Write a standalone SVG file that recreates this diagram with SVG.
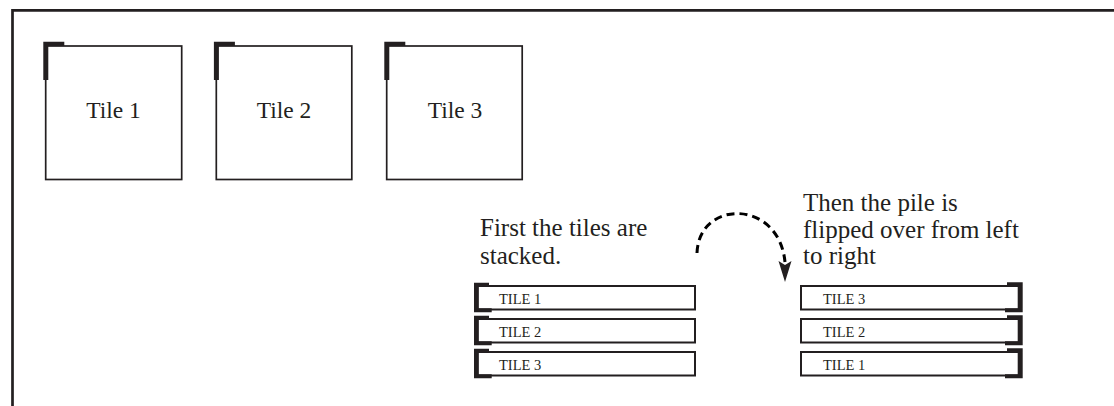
<svg xmlns="http://www.w3.org/2000/svg" xmlns:xlink="http://www.w3.org/1999/xlink" width="1114" height="406" viewBox="0 0 1114 406">
<style>
.frame{fill:none;stroke:#231f20;stroke-width:2.7}
.tile{fill:#fff;stroke:#231f20;stroke-width:1.7}
.bar{fill:#fff;stroke:#231f20;stroke-width:2}
.mark{fill:#231f20}
.t{font-family:"Liberation Serif","Times New Roman",serif;fill:#231f20}
.big{font-size:23.5px}
.cap{font-size:25px}
.small{font-size:14.5px}
.arc{fill:none;stroke:#000;stroke-width:3;stroke-dasharray:8 5}
</style>
<defs>
<path id="cornerTL" class="mark" d="M-2.4,-4.3 H18.6 V0 H2.6 V34 H-2.4 Z"/>
<path id="brL" class="mark" d="M-3.7,-3.3 H11.3 V0.7 H0.8 V22.3 H14 V26.3 H-3.7 Z"/>
<path id="brR" class="mark" d="M4,-3.7 V26.3 H-13.7 V22.3 H-0.7 V0.3 H-11.7 V-3.7 Z"/>
</defs>
<rect width="1114" height="406" fill="#fff"/>
<path class="frame" d="M12.5,406 V10.3 H1114"/>

<g id="tile1">
<rect class="tile" x="45.7" y="46" width="136" height="133.5"/>
<use xlink:href="#cornerTL" x="45.7" y="46"/>
<text class="t big" x="113.5" y="118" text-anchor="middle">Tile 1</text>
</g>
<g id="tile2">
<rect class="tile" x="216.3" y="46" width="135.5" height="133.5"/>
<use xlink:href="#cornerTL" x="216.3" y="46"/>
<text class="t big" x="284" y="118" text-anchor="middle">Tile 2</text>
</g>
<g id="tile3">
<rect class="tile" x="386.7" y="46" width="135.5" height="133.5"/>
<use xlink:href="#cornerTL" x="386.7" y="46"/>
<text class="t big" x="455" y="118" text-anchor="middle">Tile 3</text>
</g>

<g id="caption-left">
<text class="t cap" x="480" y="236">First the tiles are</text>
<text class="t cap" x="480" y="264">stacked.</text>
</g>
<g id="caption-right">
<text class="t cap" x="803" y="211">Then the pile is</text>
<text class="t cap" x="803" y="238">flipped over from left</text>
<text class="t cap" x="803" y="264">to right</text>
</g>

<g id="stack-left">
<g id="stackL1">
<rect class="bar" x="477.7" y="286" width="217.3" height="23.5"/>
<use xlink:href="#brL" x="477.7" y="286"/>
<text class="t small" x="499" y="304">TILE 1</text>
</g>
<g id="stackL2">
<rect class="bar" x="477.7" y="319" width="217.3" height="23.5"/>
<use xlink:href="#brL" x="477.7" y="319"/>
<text class="t small" x="499" y="337">TILE 2</text>
</g>
<g id="stackL3">
<rect class="bar" x="477.7" y="352" width="217.3" height="23.5"/>
<use xlink:href="#brL" x="477.7" y="352"/>
<text class="t small" x="499" y="370">TILE 3</text>
</g>
</g>

<g id="stack-right">
<g id="stackR1">
<rect class="bar" x="801" y="286" width="217.7" height="23.5"/>
<use xlink:href="#brR" x="1018.7" y="286"/>
<text class="t small" x="823" y="304">TILE 3</text>
</g>
<g id="stackR2">
<rect class="bar" x="801" y="319" width="217.7" height="23.5"/>
<use xlink:href="#brR" x="1018.7" y="319"/>
<text class="t small" x="823" y="337">TILE 2</text>
</g>
<g id="stackR3">
<rect class="bar" x="801" y="352" width="217.7" height="23.5"/>
<use xlink:href="#brR" x="1018.7" y="352"/>
<text class="t small" x="823" y="370">TILE 1</text>
</g>
</g>

<g id="connectors">
<path class="arc" d="M697,253 C699,199 779,199 785,262"/>
<polygon class="mark" points="778.5,261 785,265 791.5,261 785,282" fill="#000"/>
</g>
</svg>
